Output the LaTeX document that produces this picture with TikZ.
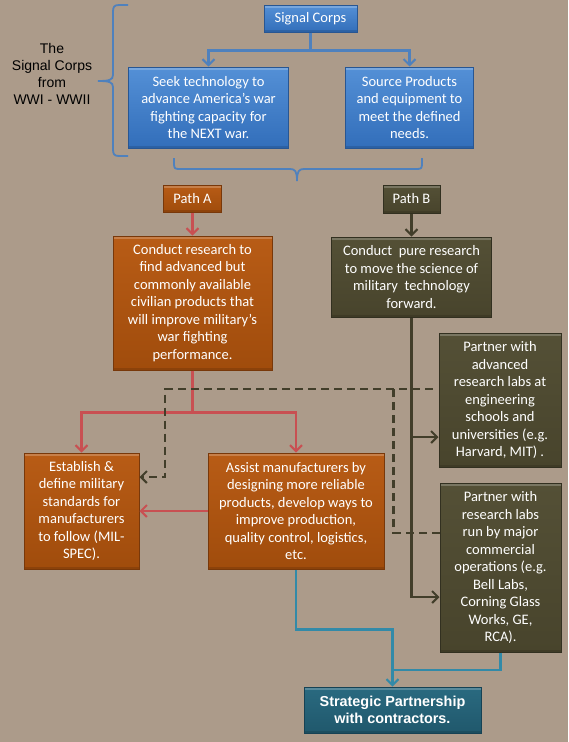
\documentclass[tikz,border=0pt]{standalone}
\usepackage{fontspec}
\setmainfont{Carlito}
\newfontfamily\arialf{Liberation Sans}
\usetikzlibrary{arrows.meta,calc}
\definecolor{bg}{RGB}{172,155,138}
\definecolor{blueT}{RGB}{84,144,214}
\definecolor{blueB}{RGB}{50,110,186}
\definecolor{blueD}{RGB}{40,86,146}
\definecolor{oraT}{RGB}{184,92,22}
\definecolor{oraB}{RGB}{160,76,12}
\definecolor{oraD}{RGB}{120,56,10}
\definecolor{oliT}{RGB}{84,80,54}
\definecolor{oliB}{RGB}{72,68,44}
\definecolor{oliD}{RGB}{50,48,32}
\definecolor{tealT}{RGB}{42,106,128}
\definecolor{tealB}{RGB}{32,88,108}
\definecolor{tealD}{RGB}{22,66,84}
\definecolor{lineblue}{RGB}{79,129,189}
\definecolor{linered}{RGB}{200,80,82}
\definecolor{lineoli}{RGB}{66,62,42}
\definecolor{lineteal}{RGB}{50,138,168}
\begin{document}
\begin{tikzpicture}[x=1pt,y=-1pt,
  box/.style={draw, line width=1pt, align=center, text=white, inner sep=2pt,
    font=\fontsize{14.5}{17.5}\selectfont,
    path picture={
      \fill[white,opacity=0.22] (path picture bounding box.north west) rectangle ([yshift=-3pt]path picture bounding box.north east);
      \fill[black,opacity=0.12] (path picture bounding box.south west) rectangle ([yshift=2.5pt]path picture bounding box.south east);
    }},
  bluebox/.style={box, top color=blueT, bottom color=blueB, draw=blueD},
  orabox/.style={box, top color=oraT, bottom color=oraB, draw=oraD},
  olibox/.style={box, top color=oliT, bottom color=oliB, draw=oliD},
  tealbox/.style={box, top color=tealT, bottom color=tealB, draw=tealD,
    font=\arialf\bfseries\fontsize{14.4}{17}\selectfont},
  tip/.style={-{Straight Barb[length=6pt,width=12pt,line width=2pt]}},
  bluearrow/.style={tip, draw=lineblue, line width=2.5pt},
  redarrow/.style={tip, draw=linered, line width=2.2pt},
  oliarrow/.style={tip, draw=lineoli, line width=2.2pt},
  dashline/.style={draw=lineoli, line width=2.5pt, dash pattern=on 8pt off 5pt},
  dasharrow/.style={dashline, tip},
  tealarrow/.style={tip, draw=lineteal, line width=2.5pt},
  tealline/.style={draw=lineteal, line width=2.5pt},
  bracestyle/.style={draw=lineblue, line width=1.8pt}
]
\fill[bg] (0,0) rectangle (568,742);
\useasboundingbox (0,0) rectangle (568,742);

% left label
\node[font=\arialf\fontsize{14}{17}\selectfont, align=center, text=black] (lbl) at (52,74)
  {The\\Signal Corps\\from\\WWI - WWII};

% braces
\draw[bracestyle] (128,5) -- (119,5) .. controls (114,5) and (113,7) .. (113,12) -- (113,75)
  .. controls (113,80) and (109,81) .. (98,81)
  .. controls (109,81) and (113,82) .. (113,87) -- (113,149)
  .. controls (113,154) and (114,156) .. (119,156) -- (128,156);
\draw[bracestyle] (174,158) -- (174,164) .. controls (174,168) and (175,169) .. (179,169) -- (290,169)
  .. controls (295,169) and (297,171) .. (297,181)
  .. controls (297,171) and (299,169) .. (304,169) -- (417,169)
  .. controls (421,169) and (422,168) .. (422,164) -- (422,158);

% nodes
\node[bluebox, minimum width=93pt, minimum height=27pt] (sc) at (310.5,18.5) {Signal Corps};
\node[bluebox, minimum width=160pt, minimum height=81pt] (seek) at (208.5,107.5)
  {Seek technology to\\advance America’s war\\fighting capacity for\\the NEXT war.};
\node[bluebox, minimum width=128pt, minimum height=81pt] (source) at (409.5,107.5)
  {Source Products\\and equipment to\\meet the defined\\needs.};
\node[orabox, minimum width=58pt, minimum height=27pt] (pa) at (192.5,198.5) {Path A};
\node[olibox, minimum width=57pt, minimum height=28pt] (pb) at (411.5,199) {Path B};
\node[orabox, minimum width=159pt, minimum height=134pt] (ca) at (192.5,303)
  {Conduct research to\\find advanced but\\commonly available\\civilian products that\\will improve military’s\\war fighting\\performance.};
\node[olibox, minimum width=160pt, minimum height=80pt] (cb) at (411.5,277)
  {Conduct\ \ pure research\\to move the science of\\military\ \ technology\\forward.};
\node[olibox, minimum width=122pt, minimum height=134pt] (p1) at (500,400)
  {Partner with\\advanced\\research labs at\\engineering\\schools and\\universities (e.g.\\Harvard, MIT) .};
\node[olibox, minimum width=121pt, minimum height=169pt] (p2) at (500.5,567.5)
  {Partner with\\research labs\\run by major\\commercial\\operations (e.g.\\Bell Labs,\\Corning Glass\\Works, GE,\\RCA).};
\node[orabox, minimum width=115pt, minimum height=116pt] (est) at (81.5,511)
  {Establish \&\\define military\\standards for\\manufacturers\\to follow (MIL-\\SPEC).};
\node[orabox, minimum width=176pt, minimum height=116pt] (as) at (296,511)
  {Assist manufacturers by\\designing more reliable\\products, develop ways to\\improve production,\\quality control, logistics,\\etc.};
\node[tealbox, minimum width=177pt, minimum height=46pt] (st) at (392.5,710)
  {Strategic Partnership\\with contractors.};

% top connectors
\draw[bluearrow] (sc.south) -- ++(0,18) -| (seek.north);
\draw[bluearrow] (sc.south) -- ++(0,18) -| (source.north);

% path A
\draw[redarrow] (pa.south) -- (ca.north);
\draw[redarrow] (ca.south) -- ++(0,42) -| (est.north);
\draw[redarrow] (ca.south) -- ++(0,42) -| (as.north);
\draw[redarrow] (as.west) -- (est.east);

% path B
\draw[oliarrow] (pb.south) -- (cb.north);
\coordinate (p1in) at ([yshift=-37pt]p1.west);
\coordinate (p2in) at ([yshift=-29.5pt]p2.west);
\draw[oliarrow] (cb.south) |- (p2in);
\draw[oliarrow] (cb.south |- p1in) -- (p1in);

% dashed feedback
\coordinate (dstart) at ([yshift=11pt,xshift=-6pt]p1.west);
\coordinate (dcorner) at (165,477);
\coordinate (dend) at ([yshift=34pt]est.east);
\draw[dasharrow] (dstart) -| (dcorner) -- (dend);
\coordinate (d2start) at ([yshift=34.5pt]p2.west);
\coordinate (d2top) at (393.5,389);
\draw[dashline] (d2start) -| (d2top);

% teal connectors
\draw[tealarrow] (as.south) -- ++(0,60) -| (st.north);
\coordinate (tj) at (st.north |- 0,670);
\draw[tealline] (p2.south) |- (tj);
\end{tikzpicture}
\end{document}
